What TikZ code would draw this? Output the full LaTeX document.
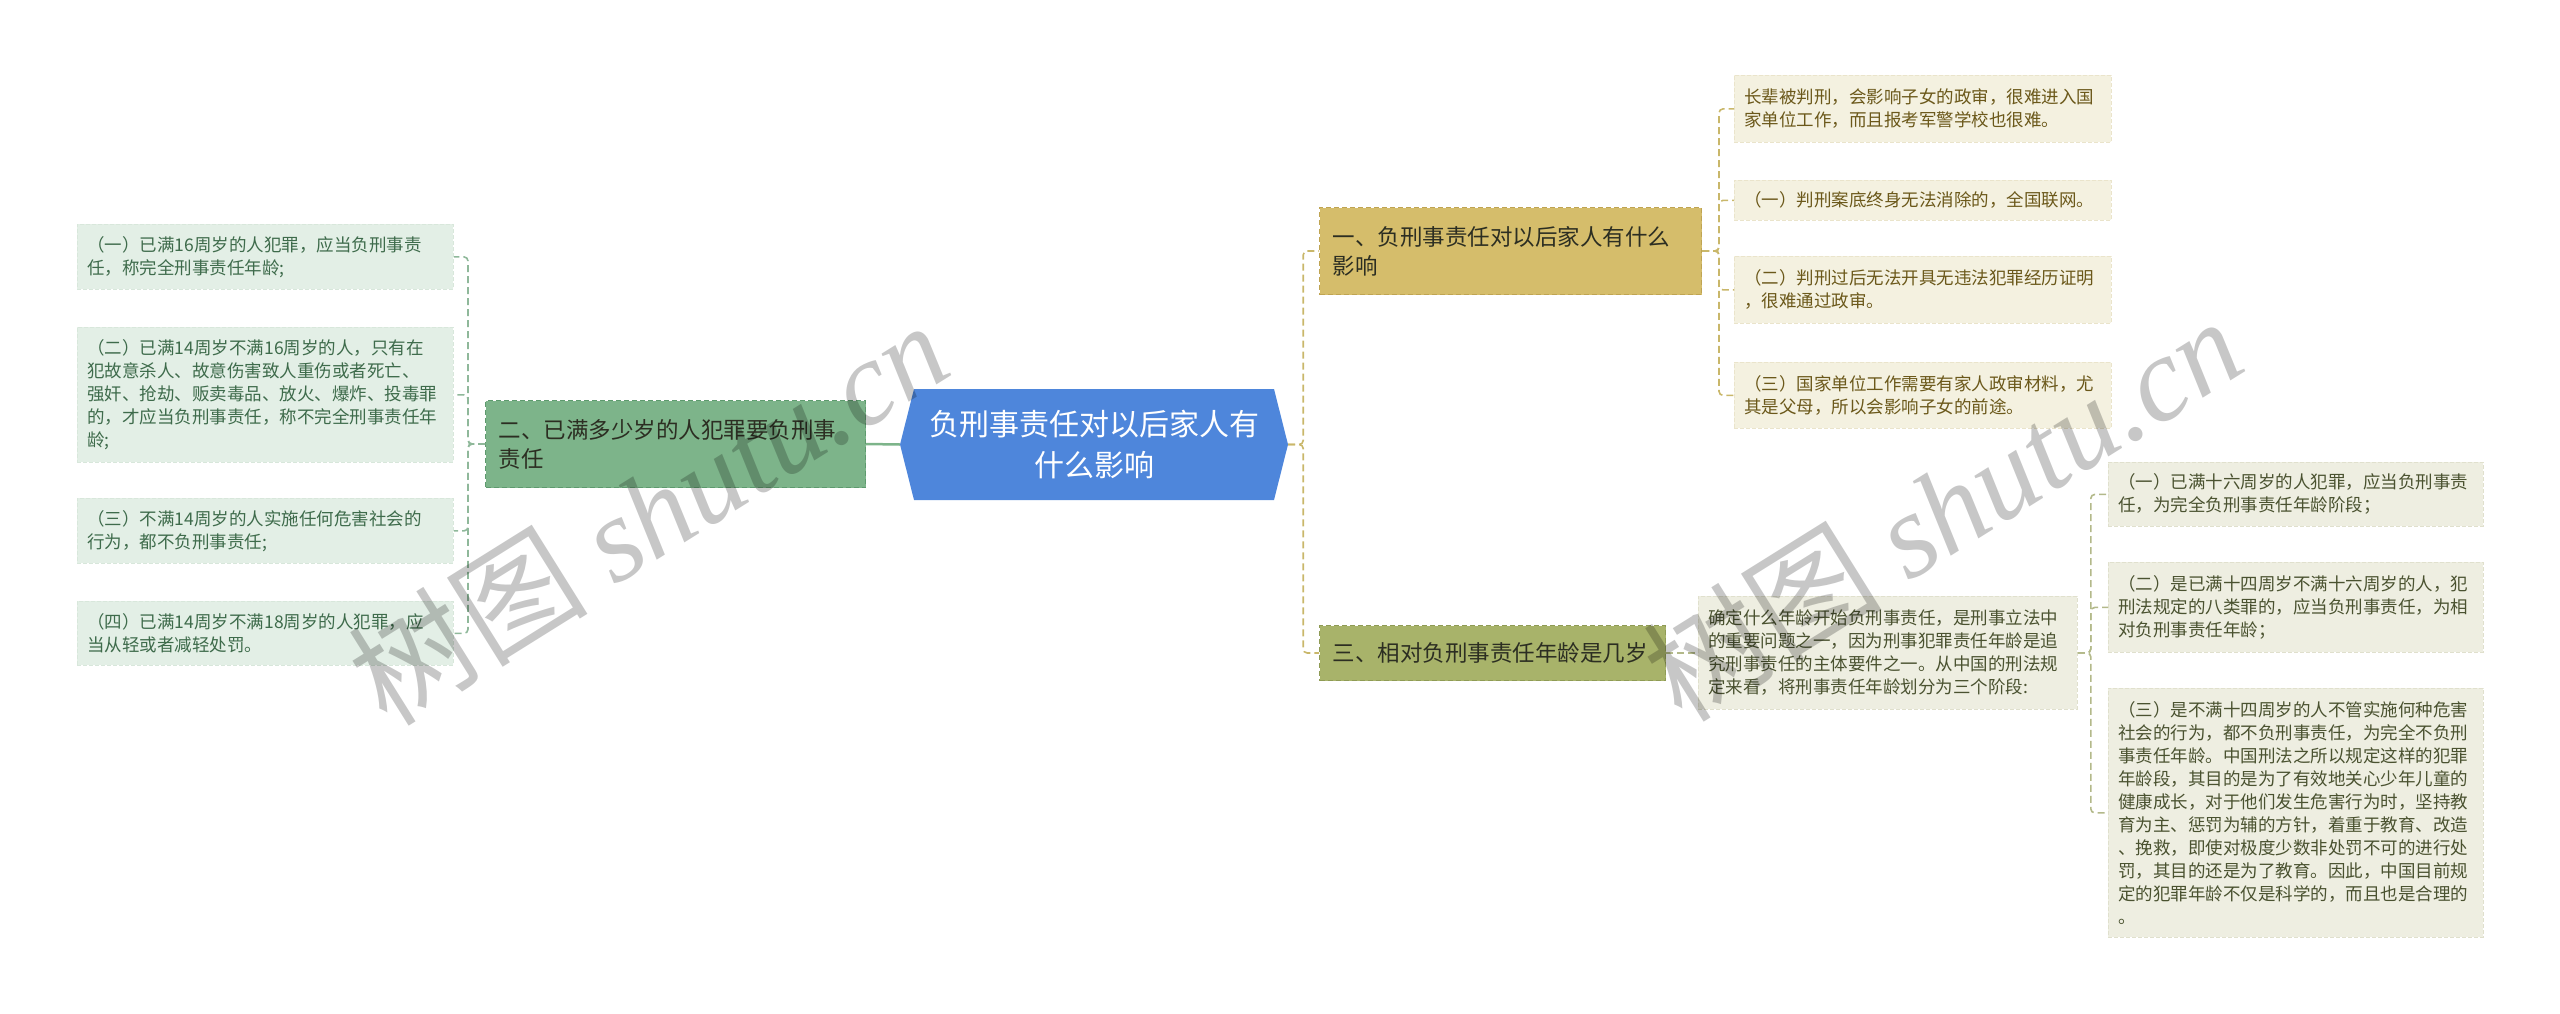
\documentclass[tikz,border=0pt]{standalone}
\usepackage{fontspec}
\setmainfont{Noto Sans CJK SC}
\newfontfamily\wmcjk{Noto Sans CJK SC}
\newfontfamily\wmlatin{Liberation Serif}
\definecolor{cblue}{HTML}{4E86DB}
\definecolor{cblueline}{HTML}{3F74C6}
\definecolor{gfill}{HTML}{7DB48A}
\definecolor{gline}{HTML}{5E9A6E}
\definecolor{yfill}{HTML}{D5BD6B}
\definecolor{yline}{HTML}{BFA452}
\definecolor{ofill}{HTML}{A8B36A}
\definecolor{oline}{HTML}{8F9B55}
\definecolor{lLfill}{HTML}{E3EFE6}
\definecolor{lLtext}{HTML}{3E6B4B}
\definecolor{lLline}{HTML}{D8E7DB}
\definecolor{lRfill}{HTML}{F4F1E0}
\definecolor{lRtext}{HTML}{6B581A}
\definecolor{lRline}{HTML}{EAE4CB}
\definecolor{lOfill}{HTML}{EEEEE1}
\definecolor{lOtext}{HTML}{4A5230}
\definecolor{lOline}{HTML}{E0E0CD}
\definecolor{connL}{HTML}{8FB89A}
\definecolor{connR}{HTML}{C9B76A}
\definecolor{connO}{HTML}{B3B98A}
\definecolor{branchtext}{HTML}{2C2E22}
\begin{document}
\begin{tikzpicture}[x=1pt,y=-1pt,
  leafbase/.style={anchor=north west, dash pattern=on 4pt off 2pt, line width=0.8pt,
    font=\fontsize{17.5}{23}\selectfont, inner xsep=10pt, inner ysep=0pt, align=left},
  leafL/.style={leafbase, fill=lLfill, draw=lLline, text=lLtext, text width=356pt},
  leafR/.style={leafbase, fill=lRfill, draw=lRline, text=lRtext, text width=357pt},
  leafO/.style={leafbase, fill=lOfill, draw=lOline, text=lOtext},
  branchbox/.style={anchor=north west, dash pattern=on 5pt off 3pt, line width=1pt,
    font=\fontsize{22.5}{29}\selectfont, inner xsep=13pt, inner ysep=0pt, align=left, text=branchtext},
  connbase/.style={line width=1.6pt, dash pattern=on 7pt off 4pt, rounded corners=4pt},
  cL/.style={connbase, draw=connL},
  cR/.style={connbase, draw=connR},
  cO/.style={connbase, draw=connO},
  wm/.style={text=black, text opacity=0.22, font=\fontsize{120}{120}\selectfont, inner sep=0pt}
]
\useasboundingbox (0,0) rectangle (2560,1014);

% centre
\node[minimum width=388pt, minimum height=111pt, inner sep=0pt, text width=360pt, align=center,
  text=white, font=\fontsize{30}{41}\selectfont,
  path picture={\fill[cblue] ([xshift=14pt]path picture bounding box.north west) -- ([xshift=-14pt]path picture bounding box.north east) -- (path picture bounding box.east) -- ([xshift=-14pt]path picture bounding box.south east) -- ([xshift=14pt]path picture bounding box.south west) -- (path picture bounding box.west) -- cycle;}]
  (c) at (1094,444.5) {负刑事责任对以后家人有\\什么影响};

% left branch
\node[branchbox, fill=gfill, draw=gline, text width=354pt, minimum height=87pt] (b2) at (485,400) {二、已满多少岁的人犯罪要负刑事\\责任};
\node[leafL, minimum height=65pt] (l1) at (77,224) {（一）已满16周岁的人犯罪，应当负刑事责\\任，称完全刑事责任年龄;};
\node[leafL, minimum height=135pt] (l2) at (77,327) {（二）已满14周岁不满16周岁的人，只有在\\犯故意杀人、故意伤害致人重伤或者死亡、\\强奸、抢劫、贩卖毒品、放火、爆炸、投毒罪\\的，才应当负刑事责任，称不完全刑事责任年\\龄;};
\node[leafL, minimum height=65pt] (l3) at (77,498) {（三）不满14周岁的人实施任何危害社会的\\行为，都不负刑事责任;};
\node[leafL, minimum height=64pt] (l4) at (77,601) {（四）已满14周岁不满18周岁的人犯罪，应\\当从轻或者减轻处罚。};

% right branch 1
\node[branchbox, fill=yfill, draw=yline, text width=356pt, minimum height=87pt] (b1) at (1319,207) {一、负刑事责任对以后家人有什么\\影响};
\node[leafR, minimum height=67pt] (r1) at (1734,75) {长辈被判刑，会影响子女的政审，很难进入国\\家单位工作，而且报考军警学校也很难。};
\node[leafR, minimum height=40pt] (r2) at (1734,180) {（一）判刑案底终身无法消除的，全国联网。};
\node[leafR, minimum height=67pt] (r3) at (1734,256) {（二）判刑过后无法开具无违法犯罪经历证明\\，很难通过政审。};
\node[leafR, minimum height=66pt] (r4) at (1734,362) {（三）国家单位工作需要有家人政审材料，尤\\其是父母，所以会影响子女的前途。};

% right branch 3
\node[branchbox, fill=ofill, draw=oline, text width=320pt, minimum height=55pt] (b3) at (1319,625) {三、相对负刑事责任年龄是几岁};
\node[leafO, text width=359pt, minimum height=113pt] (m) at (1698,596) {确定什么年龄开始负刑事责任，是刑事立法中\\的重要问题之一，因为刑事犯罪责任年龄是追\\究刑事责任的主体要件之一。从中国的刑法规\\定来看，将刑事责任年龄划分为三个阶段:};
\node[leafO, text width=355pt, minimum height=64pt] (g1) at (2108,462) {（一）已满十六周岁的人犯罪，应当负刑事责\\任，为完全负刑事责任年龄阶段；};
\node[leafO, text width=355pt, minimum height=90pt] (g2) at (2108,562) {（二）是已满十四周岁不满十六周岁的人，犯\\刑法规定的八类罪的，应当负刑事责任，为相\\对负刑事责任年龄；};
\node[leafO, text width=355pt, minimum height=249pt] (g3) at (2108,688) {（三）是不满十四周岁的人不管实施何种危害\\社会的行为，都不负刑事责任，为完全不负刑\\事责任年龄。中国刑法之所以规定这样的犯罪\\年龄段，其目的是为了有效地关心少年儿童的\\健康成长，对于他们发生危害行为时，坚持教\\育为主、惩罚为辅的方针，着重于教育、改造\\、挽救，即使对极度少数非处罚不可的进行处\\罚，其目的还是为了教育。因此，中国目前规\\定的犯罪年龄不仅是科学的，而且也是合理的\\。};

% connectors
\draw[line width=2.5pt, gfill] (c.west) -- (b2.east);
\foreach \n in {l1,l2,l3,l4} \draw[cL] (b2.west) -- ++(-17,0) |- (\n.east);
\foreach \n in {b1,b3} \draw[cR] (c.east) -- ++(15,0) |- (\n.west);
\foreach \n in {r1,r2,r3,r4} \draw[cR] (b1.east) -- ++(17,0) |- (\n.west);
\draw[cO] (b3.east) -- (m.west |- b3.east);
\foreach \n in {g1,g2,g3} \draw[cO] (m.east) -- ++(13,0) |- (\n.west);

% watermarks
\node[wm, rotate=32] (wm1) at (648,512) {\wmcjk 树图 \wmlatin\itshape shutu.cn};
\node[wm, rotate=32] (wm2) at (1942,508) {\wmcjk 树图 \wmlatin\itshape shutu.cn};
\end{tikzpicture}
\end{document}
